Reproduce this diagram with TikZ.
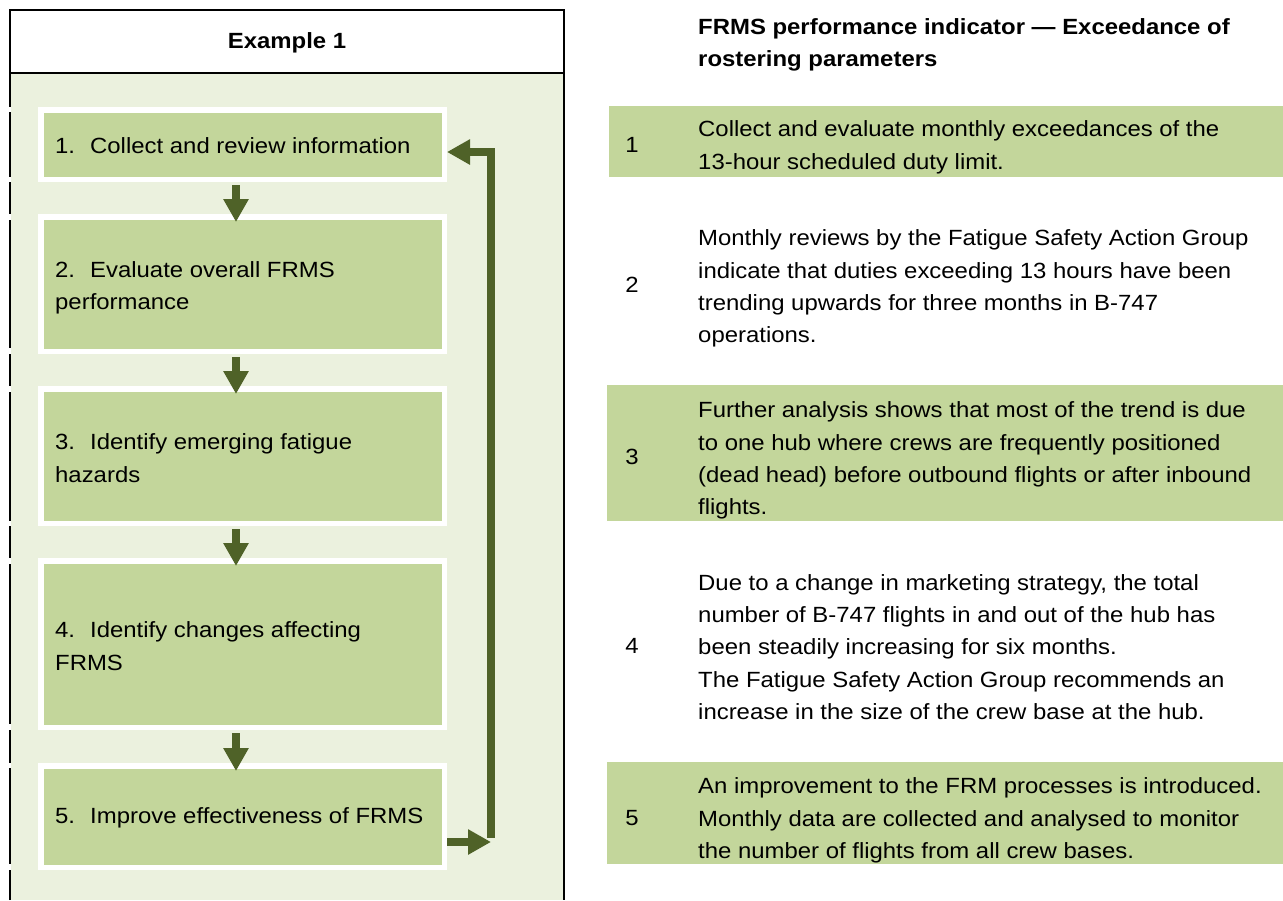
\documentclass[tikz,border=0pt]{standalone}
\usepackage{fontspec}
\setmainfont{Liberation Sans}[FakeStretch=1.087]
\usetikzlibrary{arrows.meta}
\definecolor{panelbg}{RGB}{235,241,222}
\definecolor{boxfill}{RGB}{195,214,155}
\definecolor{flow}{RGB}{79,98,40}
\newcommand{\bodyfont}{\fontsize{22}{32.3}\selectfont}
\newcommand{\stepno}[1]{\makebox[35pt][l]{#1}}
\tikzset{
  txt/.style={font=\bodyfont, inner sep=0pt, align=left, anchor=west},
  num/.style={font=\bodyfont, inner sep=0pt},
  stepbox/.style={draw=white, line width=5.5pt, fill=boxfill,
    minimum width=403.5pt, inner sep=0pt},
  flowarrow/.style={draw=flow, line width=8.5pt, line join=miter,
    -{Triangle[width=24pt,length=23pt]}},
  band/.style={fill=boxfill, draw=none},
  frame/.style={draw=black, line width=2pt}
}
\begin{document}
\begin{tikzpicture}[x=1pt, y=-1pt]
\useasboundingbox (0,0) rectangle (1283,900);
\fill[white] (0,0) rectangle (1283,900);

% left panel: header cell and shaded body
\fill[panelbg] (10,73) rectangle (564,900);
\draw[frame] (10,900) -- (10,10) -- (564,10) -- (564,900);
\draw[frame] (10,73) -- (564,73);
\node[font=\bodyfont\bfseries] (head) at (287,43) {Example 1};

% the white row rules of the steps break the left frame line
\foreach \a/\b in {107/112,177/182,214/220,348/354,386/392,521/526,558/564,724/730,763/768,864/870}
  \fill[white] (9,\a) rectangle (11,\b);

% process steps
\node[stepbox, minimum height=69.5pt]  (s1) at (242.5,144.5) {};
\node[stepbox, minimum height=134.5pt] (s2) at (242.5,284) {};
\node[stepbox, minimum height=134.5pt] (s3) at (242.5,456) {};
\node[stepbox, minimum height=166.5pt] (s4) at (242.5,644) {};
\node[stepbox, minimum height=101.5pt] (s5) at (242.5,816.5) {};

\node[txt] (t1) at ([xshift=17pt, yshift=-1.5pt]s1.west) {\stepno{1.}Collect and review information};
\node[txt] (t2) at ([xshift=17pt, yshift=-3.5pt]s2.west) {\stepno{2.}Evaluate overall FRMS\\performance};
\node[txt] (t3) at ([xshift=17pt, yshift=-2pt]s3.west) {\stepno{3.}Identify emerging fatigue\\hazards};
\node[txt] (t4) at ([xshift=17pt, yshift=-2pt]s4.west) {\stepno{4.}Identify changes affecting\\FRMS};
\node[txt] (t5) at ([xshift=17pt, yshift=-1.5pt]s5.west) {\stepno{5.}Improve effectiveness of FRMS};

% downward arrows between the steps
\foreach \u/\v in {s1/s2,s2/s3,s3/s4,s4/s5}
  \draw[flowarrow] ([yshift=-3pt]\u.south -| 236,0) -- ([yshift=-8pt]\v.north -| 236,0);

% feedback loop from step 5 back to step 1
\coordinate (loop) at (491,842);
\draw[flowarrow] ([yshift=-25.5pt]s5.east) -- (loop);
\draw[flowarrow] ([yshift=4.25pt]loop) |- ([yshift=-7.5pt]s1.east);

% right-hand table
\node[txt, font=\bodyfont\bfseries] (title) at (698,45) {FRMS performance indicator --- Exceedance of\\rostering parameters};

\fill[band] (609,106) rectangle (1283,177);
\fill[band] (607,385) rectangle (1283,521);
\fill[band] (607,762) rectangle (1283,864);

\node[num] (n1) at (632,145) {1};
\node[txt, font=\fontsize{22}{33}\selectfont] (r1) at (698,147) {Collect and evaluate monthly exceedances of the\\13-hour scheduled duty limit.};

\node[num] (n2) at (632,285) {2};
\node[txt] (r2) at (698,288.5) {Monthly reviews by the Fatigue Safety Action Group\\indicate that duties exceeding 13 hours have been\\trending upwards for three months in B-747\\operations.};

\node[num] (n3) at (632,457) {3};
\node[txt] (r3) at (698,460.5) {Further analysis shows that most of the trend is due\\to one hub where crews are frequently positioned\\(dead head) before outbound flights or after inbound\\flights.};

\node[num] (n4) at (632,646) {4};
\node[txt] (r4) at (698,647) {Due to a change in marketing strategy, the total\\number of B-747 flights in and out of the hub has\\been steadily increasing for six months.\\The Fatigue Safety Action Group recommends an\\increase in the size of the crew base at the hub.};

\node[num] (n5) at (632,818) {5};
\node[txt] (r5) at (698,820.5) {An improvement to the FRM processes is introduced.\\Monthly data are collected and analysed to monitor\\the number of flights from all crew bases.};
\end{tikzpicture}
\end{document}
